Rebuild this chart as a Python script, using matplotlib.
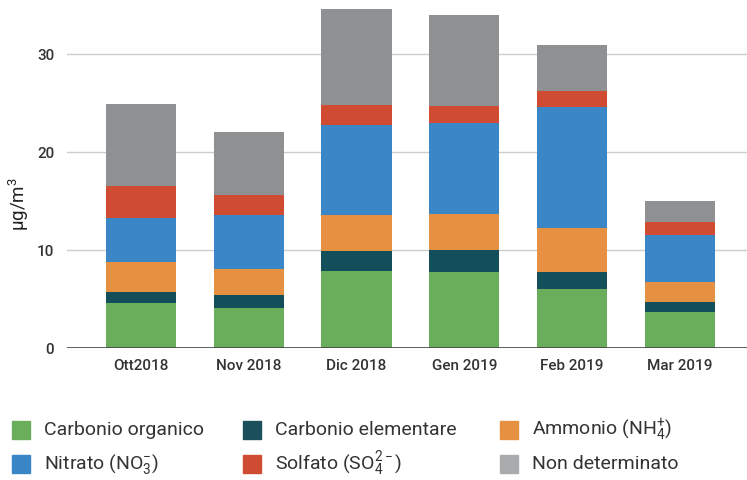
import matplotlib.pyplot as plt
import numpy as np
from matplotlib.patches import Rectangle

plt.rcParams["font.family"] = ["Roboto", "DejaVu Sans"]
plt.rcParams["mathtext.fontset"] = "custom"
plt.rcParams["mathtext.rm"] = "Roboto"
plt.rcParams["mathtext.it"] = "Roboto"

months = ["Ott2018", "Nov 2018", "Dic 2018", "Gen 2019", "Feb 2019", "Mar 2019"]
carbonio_organico = [4.65, 4.14, 7.92, 7.79, 6.08, 3.73]
carbonio_elementare = [1.06, 1.30, 1.98, 2.24, 1.74, 0.96]
ammonio = [3.13, 2.62, 3.67, 3.67, 4.42, 2.08]
nitrato = [4.45, 5.51, 9.19, 9.26, 12.35, 4.76]
solfato = [3.30, 2.10, 2.04, 1.74, 1.70, 1.40]
non_determinato = [8.30, 6.37, 11.20, 9.28, 4.69, 2.07]

series = [carbonio_organico, carbonio_elementare, ammonio, nitrato, solfato, non_determinato]
labels = [
    "Carbonio organico",
    "Carbonio elementare",
    "Ammonio (NH$_4^{+}$)",
    "Nitrato (NO$_3^{-}$)",
    "Solfato (SO$_4^{2-}$)",
    "Non determinato",
]
colors = ["#6aae5c", "#124f5a", "#e69141", "#3b86c6", "#cf4b32", "#8f9091"]
legend_colors = ["#6aae5c", "#1c4f5c", "#e69141", "#3b86c6", "#cf4b32", "#a9abad"]

fig = plt.figure(figsize=(7.47, 4.8), dpi=100)
ax = fig.add_axes([0.0893, 0.2744, 0.9107, 0.7068])

x = np.arange(len(months))
bottom = np.zeros(len(months))
for vals, c in zip(series, colors):
    ax.bar(x, vals, bottom=bottom, width=0.65, color=c, zorder=2)
    bottom += np.array(vals)

ax.set_xlim(-0.686, 5.62)
ax.set_ylim(0, 34.6)
ax.set_yticks([0, 10, 20, 30])
ax.set_xticks(x)
ax.set_xticklabels(months)
ax.grid(axis="y", color="#cccccc", linewidth=1.0, zorder=0)
ax.axhline(0, color="#444444", linewidth=1.2, zorder=3)
for s in ax.spines.values():
    s.set_visible(False)
ax.tick_params(axis="both", length=0, labelsize=11, colors="#333333")
ax.tick_params(axis="x", pad=8)
ax.tick_params(axis="y", pad=9)
for t in ax.get_xticklabels() + ax.get_yticklabels():
    t.set_fontweight("medium")
ax.set_ylabel("μg/m$^3$", fontsize=13.5, color="#222222")
ax.yaxis.set_label_coords(-0.053, 0.425)

# legend
col_x = [12, 243, 500]
row_y = [430, 464]
for i, (lab, c) in enumerate(zip(labels, legend_colors)):
    cx = col_x[i % 3]
    cy = row_y[i // 3]
    fig.patches.append(Rectangle((cx / 747, 1 - (cy + 9) / 480), 18 / 747, 18 / 480,
                                 transform=fig.transFigure, color=c, figure=fig))
    fig.text((cx + 32) / 747, 1 - cy / 480, lab, fontsize=14, color="#333333",
             va="center", ha="left")

fig.savefig("out.png", dpi=100)
